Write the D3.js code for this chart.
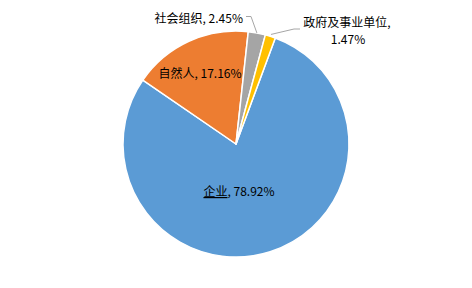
<!DOCTYPE html>
<html>
<head>
<meta charset="utf-8">
<script src="https://cdn.jsdelivr.net/npm/d3@7"></script>
<style>
  html, body { margin: 0; padding: 0; background: #fff; }
  svg { display: block; }
  text { font-family: "Noto Sans CJK SC", "Noto Sans", sans-serif; font-size: 12px; fill: #000; }
</style>
</head>
<body>
<svg id="chart" width="472" height="288"></svg>
<script>
// Share of each holder type (percent)
const categories = ["企业", "自然人", "社会组织", "政府及事业单位"];
const shares = [78.92, 17.16, 2.45, 1.47];
const colors = ["#5B9BD5", "#ED7D31", "#A5A5A5", "#FFC000"];

const width = 472, height = 288;
const cx = 236, cy = 144, R = 113;
const rotation = 20.35 * Math.PI / 180; // first slice starts slightly right of 12 o'clock

const svg = d3.select("#chart");
svg.append("rect").attr("width", width).attr("height", height).attr("fill", "#fff");

const g = svg.append("g").attr("transform", `translate(${cx},${cy})`);

const pie = d3.pie()
  .sort(null)
  .value(d => d.value)
  .startAngle(rotation)
  .endAngle(rotation + 2 * Math.PI);

const data = categories.map((c, i) => ({ name: c, value: shares[i], color: colors[i] }));
const arcs = pie(data);

const arc = d3.arc().innerRadius(0).outerRadius(R);

g.selectAll("path.slice")
  .data(arcs)
  .join("path")
  .attr("class", "slice")
  .attr("d", arc)
  .attr("fill", d => d.data.color)
  .attr("stroke", "#fff")
  .attr("stroke-width", 1.5)
  .attr("stroke-linejoin", "round");

// point on the rim at the middle of a slice
const rimPoint = (d, r) => {
  const a = (d.startAngle + d.endAngle) / 2;
  return [cx + r * Math.sin(a), cy - r * Math.cos(a)];
};

const fmt = v => `${v.toFixed(2)}%`;
const labels = svg.append("g");

// 企业 (inside)
{
  const t = labels.append("text")
    .attr("x", 239).attr("y", 190)
    .attr("text-anchor", "middle")
    .attr("dominant-baseline", "central");
  t.append("tspan").attr("text-decoration", "underline").text(arcs[0].data.name);
  t.append("tspan").text(", " + fmt(arcs[0].data.value));
}

// 自然人 (inside)
labels.append("text")
  .attr("x", 200).attr("y", 72)
  .attr("text-anchor", "middle")
  .attr("dominant-baseline", "central")
  .text(`${arcs[1].data.name}, ${fmt(arcs[1].data.value)}`);

// 社会组织 (outside, leader line)
{
  const d = arcs[2];
  const p = rimPoint(d, R);
  labels.append("polyline")
    .attr("points", [p, [251, 16.5], [246, 16.5]].map(q => q.join(",")).join(" "))
    .attr("fill", "none").attr("stroke", "#A6A6A6").attr("stroke-width", 1);
  labels.append("text")
    .attr("x", 243).attr("y", 17)
    .attr("text-anchor", "end")
    .attr("dominant-baseline", "central")
    .text(`${d.data.name}, ${fmt(d.data.value)}`);
}

// 政府及事业单位 (outside, leader line, wrapped onto two lines)
{
  const d = arcs[3];
  const p = rimPoint(d, R + 2);
  labels.append("polyline")
    .attr("points", [p, [294, 29], [300, 29]].map(q => q.join(",")).join(" "))
    .attr("fill", "none").attr("stroke", "#A6A6A6").attr("stroke-width", 1);
  const t = labels.append("text")
    .attr("text-anchor", "middle")
    .attr("dominant-baseline", "central");
  t.append("tspan").attr("x", 347).attr("y", 21).text(`${d.data.name},`);
  t.append("tspan").attr("x", 348).attr("y", 38).text(fmt(d.data.value));
}
</script>
</body>
</html>
